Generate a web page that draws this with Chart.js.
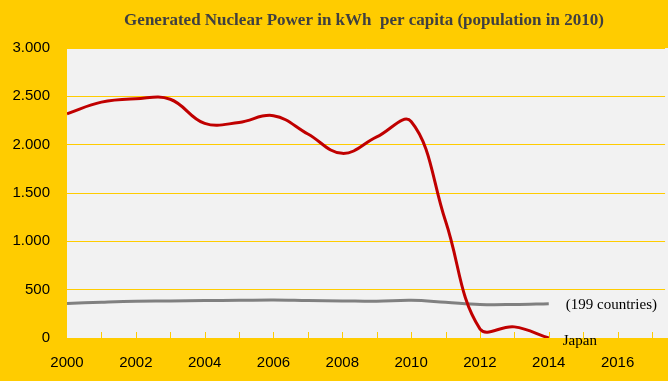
<!DOCTYPE html>
<html>
<head>
<meta charset="utf-8">
<script src="https://cdn.jsdelivr.net/npm/chart.js@4/dist/chart.umd.min.js"></script>
<style>
    html, body { margin: 0; padding: 0; background: #FFCC00; }
    #wrap { width: 668px; height: 381px; }
</style>
</head>
<body>
<div id="wrap"><canvas id="chart" width="668" height="381"></canvas></div>
<script>
// data
const years = [2000, 2001, 2002, 2003, 2004, 2005, 2006, 2007, 2008, 2009, 2010, 2011, 2012, 2013, 2014];
const japan = [2320, 2440, 2475, 2470, 2220, 2230, 2300, 2110, 1910, 2080, 2240, 1210, 95, 115, 0];
const world = [357, 370, 380, 383, 388, 390, 393, 388, 384, 380, 390, 370, 347, 347, 355];
const yTicks = [0, 500, 1000, 1500, 2000, 2500, 3000];
const seriesNames = ['Japan', '(199 countries)'];
const titleText = 'Generated Nuclear Power in kWh  per capita (population in 2010)';

const yellow = '#FFCC00';

function toPoints(vals) {
    return years.map(function (y, i) { return { x: y, y: vals[i] }; });
}

function fmt(v) {
    return v.toString().replace(/\B(?=(\d{3})+(?!\d))/g, '.');
}

// page background, grey plot area and the title
const bgPlugin = {
    id: 'bg',
    beforeDraw: function (chart) {
        const c = chart.ctx, a = chart.chartArea;
        c.save();
        c.fillStyle = yellow;
        c.fillRect(0, 0, chart.width, chart.height);
        c.fillStyle = '#F2F2F2';
        c.fillRect(a.left, a.top, chart.width - a.left, a.bottom - a.top);
        c.font = 'bold 17px "Liberation Serif", "Times New Roman", serif';
        c.fillStyle = '#404040';
        c.textAlign = 'center';
        c.textBaseline = 'middle';
        c.fillText(titleText, 364, 21);
        c.restore();
    }
};

// small yellow tick marks standing up from the bottom of the plot
const tickPlugin = {
    id: 'innerTicks',
    beforeDatasetsDraw: function (chart) {
        const c = chart.ctx, xs = chart.scales.x, a = chart.chartArea;
        c.save();
        c.strokeStyle = yellow;
        c.lineWidth = 1;
        xs.ticks.forEach(function (t) {
            const px = Math.round(xs.getPixelForValue(t.value)) + 0.5;
            if (px <= a.left + 1) return;
            c.beginPath();
            c.moveTo(px, a.bottom);
            c.lineTo(px, a.bottom - 6);
            c.stroke();
        });
        c.restore();
    }
};

// end labels next to the last point of each line
const endLabelPlugin = {
    id: 'endLabels',
    afterDatasetsDraw: function (chart) {
        const c = chart.ctx;
        c.save();
        c.font = '15px "Liberation Serif", "Times New Roman", serif';
        c.fillStyle = '#000';
        c.textBaseline = 'middle';
        c.textAlign = 'left';
        chart.data.datasets.forEach(function (ds, i) {
            const meta = chart.getDatasetMeta(i);
            const last = meta.data[meta.data.length - 1];
            const dx = i === 0 ? 14 : 17;
            const dy = i === 0 ? 3 : 1;
            c.fillText(seriesNames[i], last.x + dx, last.y + dy);
        });
        c.restore();
    }
};

new Chart(document.getElementById('chart'), {
    type: 'line',
    data: {
        datasets: [
            {
                label: seriesNames[0],
                data: toPoints(japan),
                borderColor: '#C00000',
                borderWidth: 3,
                pointRadius: 0,
                tension: 0.4
            },
            {
                label: seriesNames[1],
                data: toPoints(world),
                borderColor: '#808080',
                borderWidth: 3,
                pointRadius: 0,
                tension: 0.4
            }
        ]
    },
    options: {
        responsive: false,
        animation: false,
        devicePixelRatio: 1,
        layout: { padding: { left: 0, right: 0, top: 48, bottom: 0 } },
        plugins: {
            legend: { display: false },
            tooltip: { enabled: false },
            title: { display: false }
        },
        scales: {
            x: {
                type: 'linear',
                min: years[0],
                max: 2017.38,
                grid: { display: false, drawTicks: false },
                border: { display: false },
                ticks: {
                    stepSize: 1,
                    includeBounds: false,
                    autoSkip: false,
                    maxRotation: 0,
                    padding: 16,
                    color: '#000',
                    font: { family: '"Liberation Sans", Arial, sans-serif', size: 15 },
                    callback: function (v) { return v % 2 === 0 ? String(v) : ''; }
                },
                afterFit: function (scale) { scale.height = 43; }
            },
            y: {
                min: yTicks[0],
                max: yTicks[yTicks.length - 1],
                grid: { color: yellow, lineWidth: 1, drawTicks: false },
                border: { display: false },
                ticks: {
                    stepSize: 500,
                    padding: 17,
                    color: '#000',
                    font: { family: '"Liberation Sans", Arial, sans-serif', size: 15 },
                    callback: function (v) { return fmt(v); }
                },
                afterFit: function (scale) { scale.width = 67; }
            }
        }
    },
    plugins: [bgPlugin, tickPlugin, endLabelPlugin]
});
</script>
</body>
</html>
